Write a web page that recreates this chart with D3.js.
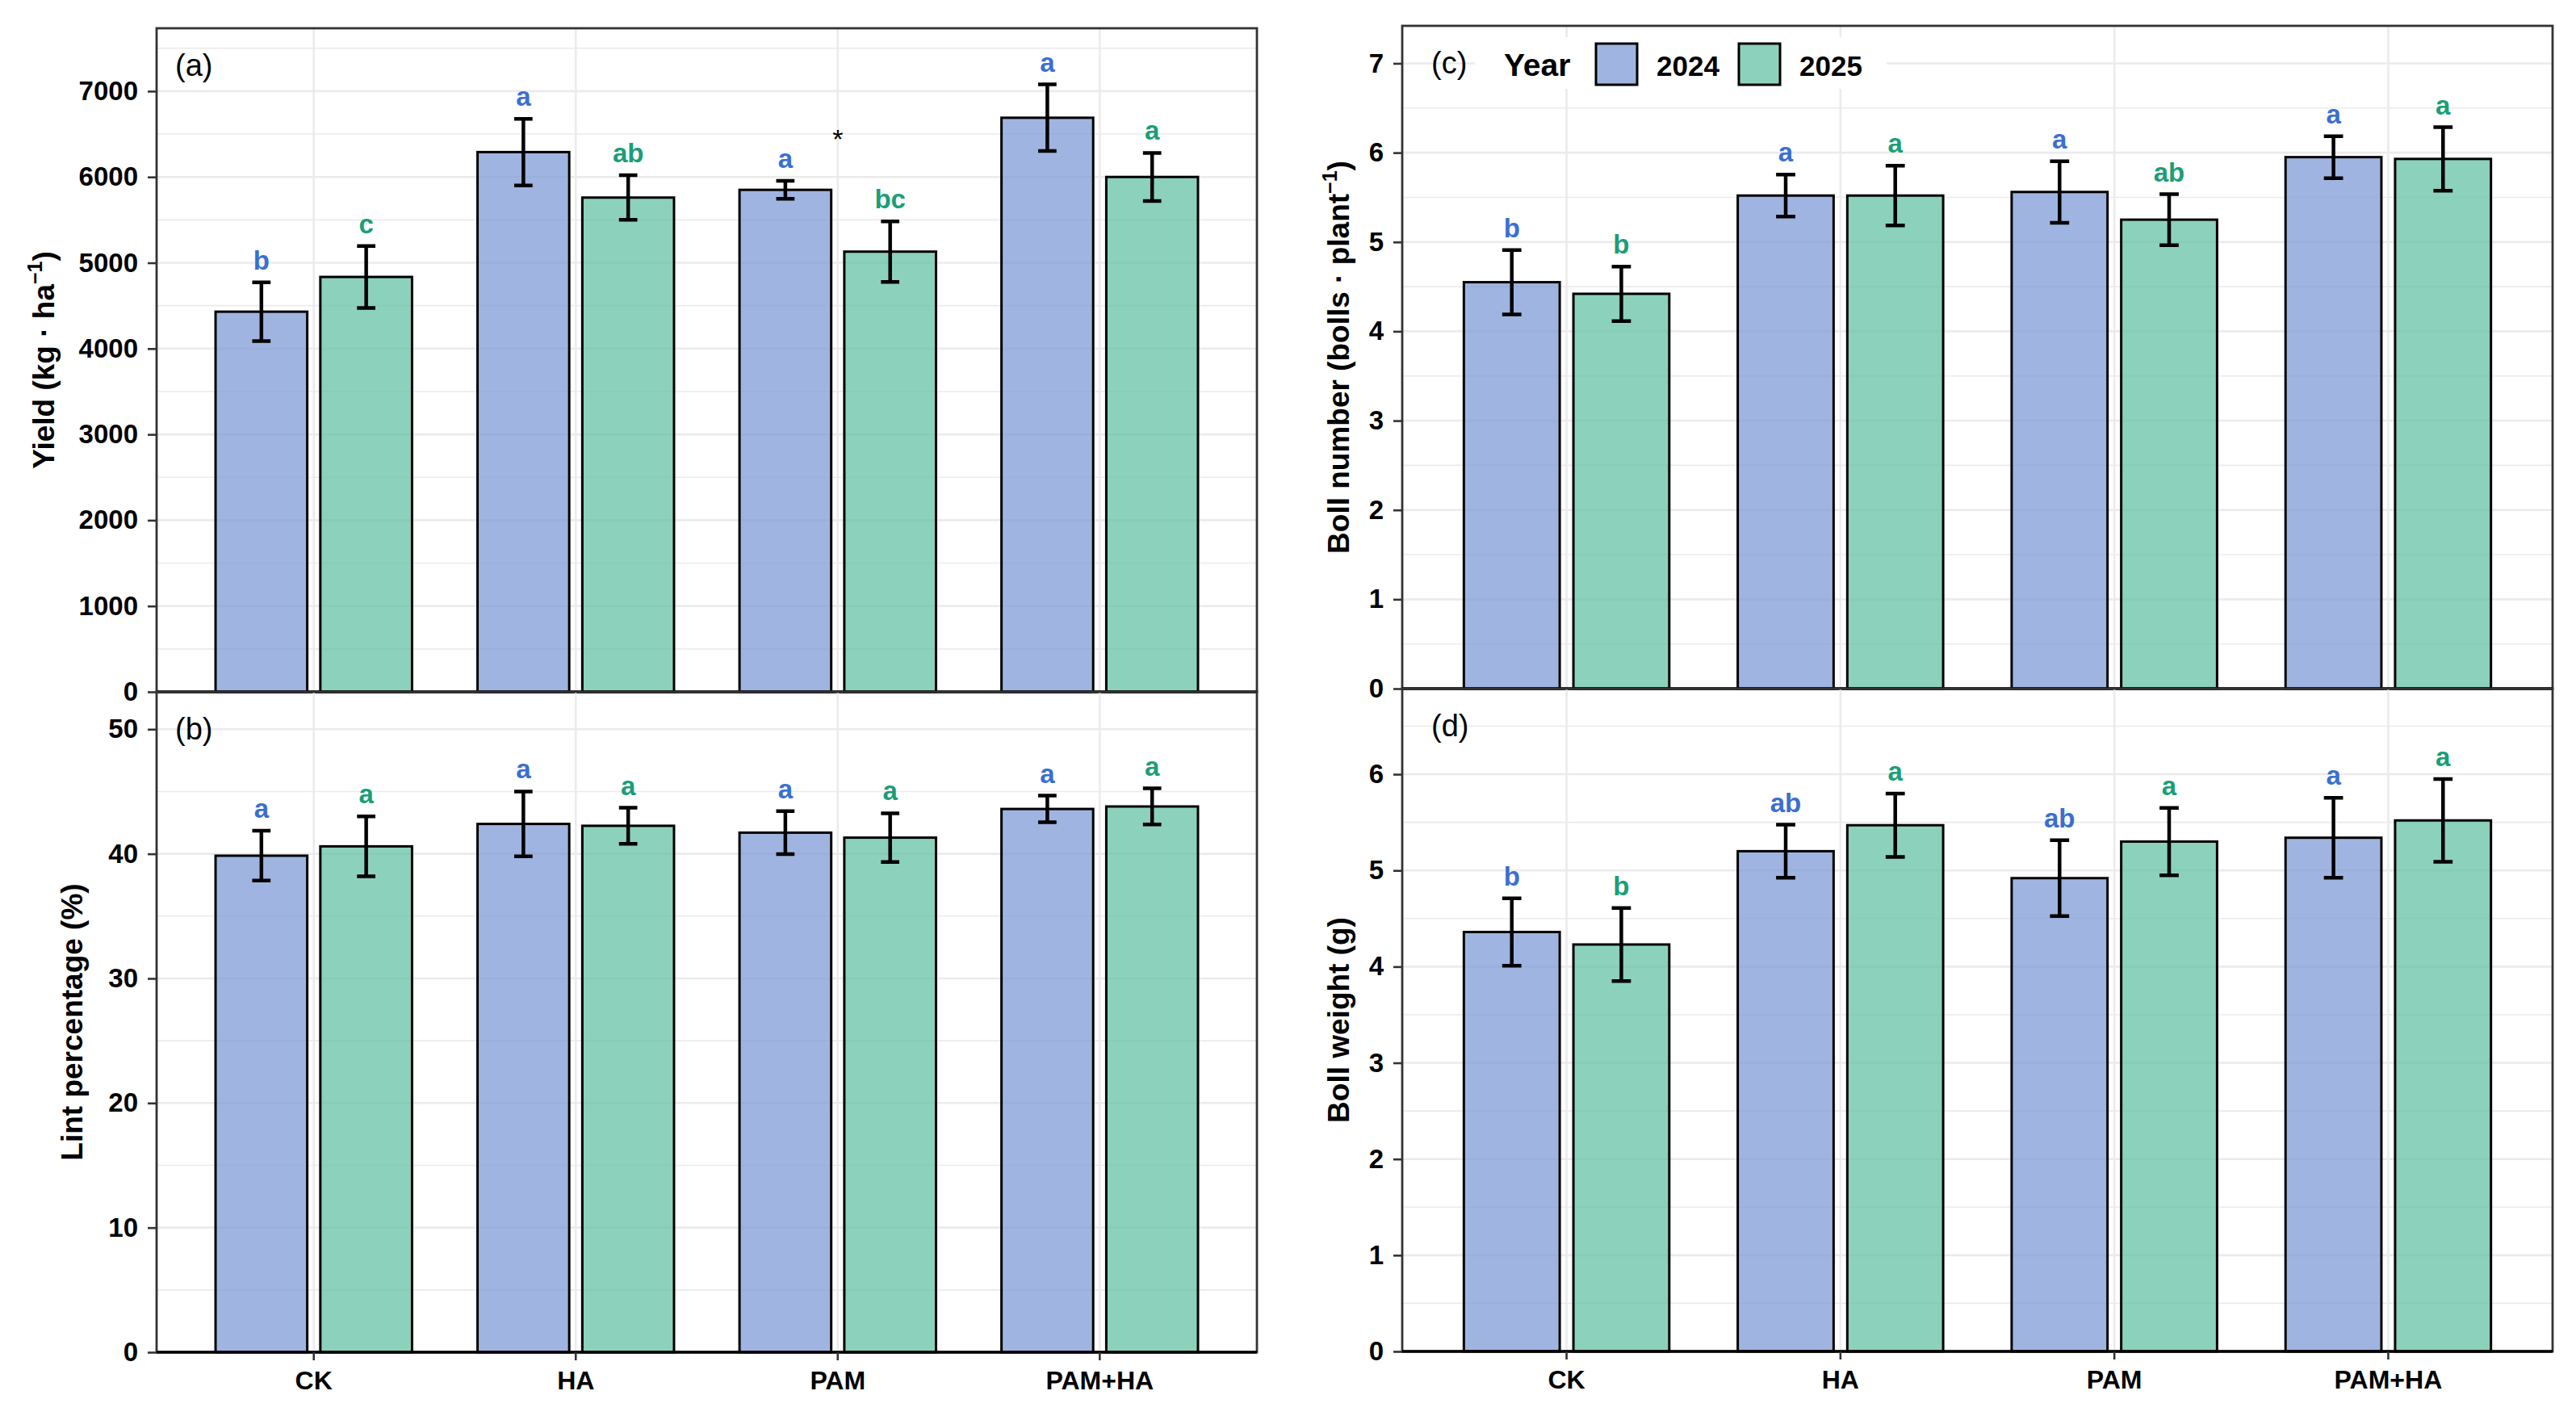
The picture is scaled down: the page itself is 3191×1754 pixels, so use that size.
<!DOCTYPE html>
<html>
<head>
<meta charset="utf-8">
<script src="https://cdn.jsdelivr.net/npm/d3@7"></script>
<style>
  body { margin: 0; background: #fff; }
  svg { display: block; }
</style>
</head>
<body>
<svg id="chart" width="3191" height="1754"></svg>
<script>
//
//Data
//

var treatments = ["CK", "HA", "PAM", "PAM+HA"];
var years = ["2024", "2025"];

//(a) yield, kg/ha
var yield2024 = [4430, 6290, 5850, 6690];
var yield2025 = [4835, 5760, 5130, 6000];
var yieldSe2024 = [342, 388, 105, 388];
var yieldSe2025 = [361, 260, 353, 280];
var yieldLetters2024 = ["b", "a", "a", "a"];
var yieldLetters2025 = ["c", "ab", "bc", "a"];
var yieldTicks = [0, 1000, 2000, 3000, 4000, 5000, 6000, 7000];
var yieldStar = [{ treatment: "PAM", y: 6330, label: "*" }];

//(b) lint percentage, %
var lint2024 = [39.85, 42.4, 41.7, 43.6];
var lint2025 = [40.6, 42.25, 41.3, 43.8];
var lintSe2024 = [2.0, 2.6, 1.72, 1.07];
var lintSe2025 = [2.4, 1.45, 1.95, 1.45];
var lintLetters2024 = ["a", "a", "a", "a"];
var lintLetters2025 = ["a", "a", "a", "a"];
var lintTicks = [0, 10, 20, 30, 40, 50];

//(c) boll number, bolls/plant
var boll2024 = [4.55, 5.52, 5.56, 5.95];
var boll2025 = [4.42, 5.52, 5.25, 5.93];
var bollSe2024 = [0.36, 0.235, 0.345, 0.235];
var bollSe2025 = [0.305, 0.335, 0.285, 0.355];
var bollLetters2024 = ["b", "a", "a", "a"];
var bollLetters2025 = ["b", "a", "ab", "a"];
var bollTicks = [0, 1, 2, 3, 4, 5, 6, 7];

//(d) boll weight, g
var weight2024 = [4.36, 5.20, 4.92, 5.34];
var weight2025 = [4.23, 5.47, 5.30, 5.52];
var weightSe2024 = [0.35, 0.275, 0.395, 0.415];
var weightSe2025 = [0.38, 0.33, 0.35, 0.43];
var weightLetters2024 = ["b", "ab", "ab", "a"];
var weightLetters2025 = ["b", "a", "a", "a"];
var weightTicks = [0, 1, 2, 3, 4, 5, 6];


//
//Styles
//

var font = "'Liberation Sans', Arial, Helvetica, sans-serif";
var barFill = { "2024": "#7f9bd5", "2025": "#66c2a5" };
var letterFill = { "2024": "#3a6fd0", "2025": "#1b9e77" };
var gridColor = "#ebebeb";


//
//Panel layout
//

var panels = [
	{ tag: "(a)", means: [yield2024, yield2025], ses: [yieldSe2024, yieldSe2025],
	  letters: [yieldLetters2024, yieldLetters2025], ticks: yieldTicks, yMax: 7733,
	  x0: 194, x1: 1557, y0: 35, y1: 857, tagX: 217, titleX: 54,
	  title: ["Yield (kg · ha", "−1", ")"], xAxis: false, notes: yieldStar },
	{ tag: "(b)", means: [lint2024, lint2025], ses: [lintSe2024, lintSe2025],
	  letters: [lintLetters2024, lintLetters2025], ticks: lintTicks, yMax: 53.0,
	  x0: 194, x1: 1557, y0: 857, y1: 1675, tagX: 217, titleX: 89,
	  title: ["Lint percentage (%)"], xAxis: true, notes: [] },
	{ tag: "(c)", means: [boll2024, boll2025], ses: [bollSe2024, bollSe2025],
	  letters: [bollLetters2024, bollLetters2025], ticks: bollTicks, yMax: 7.42,
	  x0: 1737, x1: 3162, y0: 32, y1: 853, tagX: 1773, titleX: 1658,
	  title: ["Boll number (bolls · plant", "−1", ")"], xAxis: false, notes: [] },
	{ tag: "(d)", means: [weight2024, weight2025], ses: [weightSe2024, weightSe2025],
	  letters: [weightLetters2024, weightLetters2025], ticks: weightTicks, yMax: 6.89,
	  x0: 1737, x1: 3162, y0: 853, y1: 1674, tagX: 1773, titleX: 1658,
	  title: ["Boll weight (g)"], xAxis: true, notes: [] }
];

var svg = d3.select("#chart");


//
//Draw one panel
//

function drawPanel(p) {
	var x = d3.scaleBand().domain(treatments).range([p.x0, p.x1])
		.paddingInner(0).paddingOuter(0.1);
	var step = x.step();
	var xYear = d3.scaleBand().domain(years).range([-0.4 * step, 0.4 * step])
		.paddingInner(0.125).paddingOuter(0.0625);
	var y = d3.scaleLinear().domain([0, p.yMax]).range([p.y1, p.y0]);

	var g = svg.append("g");

	//minor gridlines half way between major ticks
	var minor = [];
	for (var i = 0; i < p.ticks.length; i++) {
		var mid = p.ticks[i] + (p.ticks[1] - p.ticks[0]) / 2;
		if (mid < p.yMax) minor.push(mid);
	}
	g.selectAll(".minor").data(minor).enter().append("line")
		.attr("x1", p.x0).attr("x2", p.x1)
		.attr("y1", function(d) { return y(d); })
		.attr("y2", function(d) { return y(d); })
		.attr("stroke", gridColor).attr("stroke-width", 1.6);
	g.selectAll(".major").data(p.ticks).enter().append("line")
		.attr("x1", p.x0).attr("x2", p.x1)
		.attr("y1", function(d) { return y(d); })
		.attr("y2", function(d) { return y(d); })
		.attr("stroke", gridColor).attr("stroke-width", 2.6);
	g.selectAll(".vgrid").data(treatments).enter().append("line")
		.attr("x1", function(d) { return x(d) + step / 2; })
		.attr("x2", function(d) { return x(d) + step / 2; })
		.attr("y1", p.y0).attr("y2", p.y1)
		.attr("stroke", gridColor).attr("stroke-width", 2.6);

	//bars, error bars and letters, one year at a time
	years.forEach(function(yr, k) {
		var rows = treatments.map(function(t, i) {
			return { t: t, m: p.means[k][i], se: p.ses[k][i], lab: p.letters[k][i] };
		});
		var cx = function(d) { return x(d.t) + step / 2 + xYear(yr) + xYear.bandwidth() / 2; };
		var capW = 0.035 * step;

		g.selectAll(".bar" + yr).data(rows).enter().append("rect")
			.attr("x", function(d) { return cx(d) - xYear.bandwidth() / 2; })
			.attr("width", xYear.bandwidth())
			.attr("y", function(d) { return y(d.m); })
			.attr("height", function(d) { return y(0) - y(d.m); })
			.attr("fill", barFill[yr]).attr("fill-opacity", 0.75)
			.attr("stroke", "#000").attr("stroke-width", 3);

		g.selectAll(".err" + yr).data(rows).enter().append("path")
			.attr("d", function(d) {
				var c = cx(d), t = y(d.m + d.se), b = y(d.m - d.se);
				return "M" + (c - capW) + "," + t + "H" + (c + capW) +
					"M" + c + "," + t + "V" + b +
					"M" + (c - capW) + "," + b + "H" + (c + capW);
			})
			.attr("stroke", "#000").attr("stroke-width", 4.5).attr("fill", "none");

		g.selectAll(".lab" + yr).data(rows).enter().append("text")
			.attr("x", cx)
			.attr("y", function(d) { return y(d.m + d.se) - 16; })
			.attr("text-anchor", "middle")
			.attr("font-family", font).attr("font-weight", "bold")
			.attr("font-size", 33).attr("fill", letterFill[yr])
			.text(function(d) { return d.lab; });
	});

	//extra marks such as the asterisk
	g.selectAll(".note").data(p.notes).enter().append("text")
		.attr("x", function(d) { return x(d.treatment) + step / 2; })
		.attr("y", function(d) { return y(d.y); })
		.attr("text-anchor", "middle")
		.attr("font-family", font).attr("font-size", 34).attr("fill", "#000")
		.text(function(d) { return d.label; });

	//panel frame
	g.append("rect")
		.attr("x", p.x0).attr("y", p.y0)
		.attr("width", p.x1 - p.x0).attr("height", p.y1 - p.y0)
		.attr("fill", "none").attr("stroke", "#333").attr("stroke-width", 2.8);
	g.append("line")
		.attr("x1", p.x0).attr("x2", p.x1).attr("y1", p.y1).attr("y2", p.y1)
		.attr("stroke", "#000").attr("stroke-width", 3.5);

	//y axis
	var ya = g.append("g").attr("transform", "translate(" + p.x0 + ",0)")
		.call(d3.axisLeft(y).tickValues(p.ticks).tickSize(11).tickPadding(12)
			.tickFormat(d3.format("d")));
	ya.select(".domain").remove();
	ya.selectAll(".tick line").attr("stroke", "#333").attr("stroke-width", 2.6);
	ya.selectAll(".tick text").attr("font-family", font).attr("font-weight", "bold")
		.attr("font-size", 33).attr("fill", "#000");

	//x axis on bottom panels only
	if (p.xAxis) {
		var xa = g.append("g").attr("transform", "translate(0," + p.y1 + ")")
			.call(d3.axisBottom(x).tickSize(10).tickPadding(13));
		xa.select(".domain").remove();
		xa.selectAll(".tick line").attr("stroke", "#333").attr("stroke-width", 2.6);
		xa.selectAll(".tick text").attr("font-family", font).attr("font-weight", "bold")
			.attr("font-size", 32).attr("fill", "#000");
	}

	//panel tag
	g.append("text")
		.attr("x", p.tagX).attr("y", p.y0 + 59)
		.attr("font-family", font).attr("font-size", 38).attr("fill", "#000")
		.text(p.tag);

	//axis title, rotated
	var cy = (p.y0 + p.y1) / 2;
	var tt = g.append("text")
		.attr("transform", "translate(" + p.titleX + "," + cy + ") rotate(-90)")
		.attr("dy", "0.36em")
		.attr("text-anchor", "middle")
		.attr("font-family", font).attr("font-weight", "bold")
		.attr("font-size", 37).attr("fill", "#000");
	tt.append("tspan").text(p.title[0]);
	if (p.title.length > 1) {
		tt.append("tspan").attr("font-size", 25).attr("dy", -15).text(p.title[1]);
		tt.append("tspan").attr("dy", 15).text(p.title[2]);
	}
}

panels.forEach(drawPanel);


//
//Legend inside panel (c)
//

var leg = svg.append("g");
leg.append("rect")
	.attr("x", 1827).attr("y", 46).attr("width", 510).attr("height", 64)
	.attr("fill", "#fff");
leg.append("text")
	.attr("x", 1863).attr("y", 94)
	.attr("font-family", font).attr("font-weight", "bold")
	.attr("font-size", 39).attr("fill", "#000")
	.text("Year");

var keyX = d3.scalePoint().domain(years).range([1977, 2154]);
leg.selectAll(".key").data(years).enter().append("rect")
	.attr("x", function(d) { return keyX(d); })
	.attr("y", 54).attr("width", 51).attr("height", 51)
	.attr("fill", function(d) { return barFill[d]; }).attr("fill-opacity", 0.75)
	.attr("stroke", "#000").attr("stroke-width", 3);
leg.selectAll(".keylab").data(years).enter().append("text")
	.attr("x", function(d) { return keyX(d) + 75; })
	.attr("y", 94)
	.attr("font-family", font).attr("font-weight", "bold")
	.attr("font-size", 35).attr("fill", "#000")
	.text(function(d) { return d; });
</script>
</body>
</html>
